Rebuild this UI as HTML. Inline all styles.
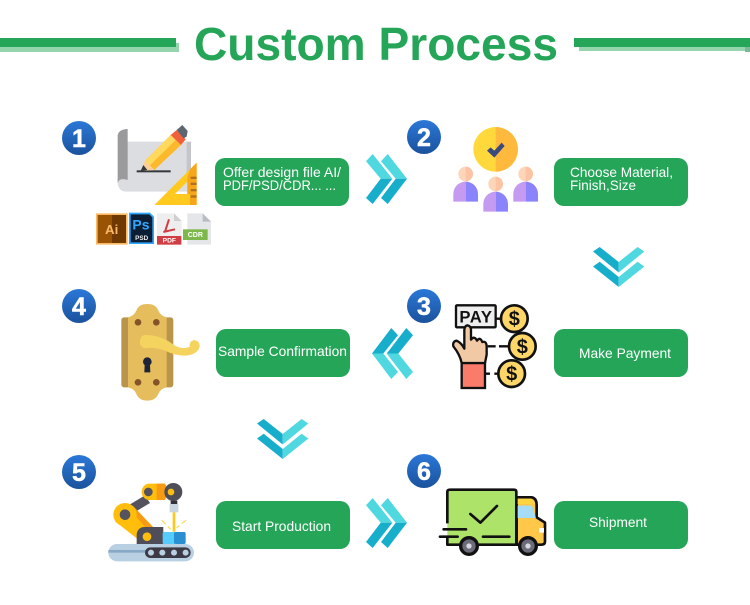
<!DOCTYPE html>
<html><head><meta charset="utf-8"><style>
html,body{margin:0;padding:0;background:#fff}
svg{display:block}
text{font-family:"Liberation Sans",sans-serif}
.l{fill:#fff;font-size:14px}
.n{fill:#fff;font-size:25px;font-weight:bold;text-anchor:middle;stroke:#fff;stroke-width:.5}
</style></head><body>
<svg width="750" height="605" viewBox="0 0 750 605" xmlns="http://www.w3.org/2000/svg">
<defs>
<linearGradient id="b" x1="0" y1="0" x2="0" y2="1"><stop offset="0" stop-color="#2b78d8"/><stop offset="1" stop-color="#1b529c"/></linearGradient>
<g id="cr">
<polygon points="0,7.3 6.7,0 26.3,24.7 14.7,24.7" fill="#4fd8e0"/><polygon points="0,44 6.7,50 26.3,24.7 14.7,24.7" fill="#17aecb"/>
<polygon points="15,7.3 21.7,0 41,24.7 29.7,24.7" fill="#4fd8e0"/><polygon points="15,44 21.7,50 41,24.7 29.7,24.7" fill="#17aecb"/>
</g>
<g id="cl">
<polygon points="41,7.3 34.3,0 14.7,25.5 26.3,25.5" fill="#17aecb"/><polygon points="41,44 34.3,51 14.7,25.5 26.3,25.5" fill="#4fd8e0"/>
<polygon points="26,7.3 19.3,0 0,25.5 11.3,25.5" fill="#17aecb"/><polygon points="26,44 19.3,51 0,25.5 11.3,25.5" fill="#4fd8e0"/>
</g>
<g id="cd">
<polygon points="0,4.5 6.7,0 25.7,15 25.7,25.5" fill="#17aecb"/><polygon points="51.3,4.5 44.6,0 25.7,15 25.7,25.5" fill="#4fd8e0"/>
<polygon points="0,19.5 6.7,14.7 25.7,30 25.7,40" fill="#17aecb"/><polygon points="51.3,19.5 44.6,14.7 25.7,30 25.7,40" fill="#4fd8e0"/>
</g>
</defs>
<rect width="750" height="605" fill="#fff"/>
<!-- header -->
<rect x="0" y="43" width="179" height="9" fill="#95d5ae"/><rect x="0" y="38" width="176" height="9" fill="#25a558"/>
<rect x="579" y="43" width="171" height="8" fill="#95d5ae"/><rect x="745" y="47" width="5" height="5" fill="#7db898"/><rect x="574" y="38" width="176" height="9" fill="#25a558"/>
<text x="194" y="60" font-size="46" font-weight="bold" fill="#25a558" textLength="364" lengthAdjust="spacingAndGlyphs">Custom Process</text>
<!-- badges -->
<g><circle cx="79" cy="138" r="17" fill="url(#b)"/><text class="n" x="79" y="147">1</text>
<circle cx="424" cy="137" r="17" fill="url(#b)"/><text class="n" x="424" y="146">2</text>
<circle cx="424" cy="306" r="17" fill="url(#b)"/><text class="n" x="424" y="315">3</text>
<circle cx="79" cy="306" r="17" fill="url(#b)"/><text class="n" x="79" y="315">4</text>
<circle cx="79" cy="472" r="17" fill="url(#b)"/><text class="n" x="79" y="481">5</text>
<circle cx="424" cy="471" r="17" fill="url(#b)"/><text class="n" x="424" y="480">6</text></g>
<!-- boxes -->
<g fill="#25a558">
<rect x="215" y="158" width="134" height="48" rx="10"/><rect x="554" y="158" width="134" height="48" rx="10"/>
<rect x="216" y="329" width="134" height="48" rx="10"/><rect x="554" y="329" width="134" height="48" rx="10"/>
<rect x="216" y="501" width="134" height="48" rx="10"/><rect x="554" y="501" width="134" height="48" rx="10"/>
</g>
<text class="l" x="223" y="177" textLength="118" lengthAdjust="spacingAndGlyphs">Offer design file AI/</text>
<text class="l" x="223" y="190" textLength="113" lengthAdjust="spacingAndGlyphs">PDF/PSD/CDR... ...</text>
<text class="l" x="570" y="177" textLength="103" lengthAdjust="spacingAndGlyphs">Choose Material,</text>
<text class="l" x="570" y="190" textLength="66" lengthAdjust="spacingAndGlyphs">Finish,Size</text>
<text class="l" x="218" y="356" textLength="129" lengthAdjust="spacingAndGlyphs">Sample Confirmation</text>
<text class="l" x="579" y="358" textLength="92" lengthAdjust="spacingAndGlyphs">Make Payment</text>
<text class="l" x="232" y="531" textLength="99" lengthAdjust="spacingAndGlyphs">Start Production</text>
<text class="l" x="589" y="527" textLength="58" lengthAdjust="spacingAndGlyphs">Shipment</text>
<!-- chevrons -->
<use href="#cr" x="366" y="154"/><use href="#cr" x="366" y="498"/>
<use href="#cl" x="372" y="328"/>
<use href="#cd" x="593" y="247"/><use href="#cd" x="257" y="419"/>
<!-- icon 1 -->
<g transform="translate(105,120) scale(.3333)">
<path d="M68 65H258V215H60Q38 212 38 185V170Z" fill="#dcdde1"/>
<path d="M38 45Q42 28 68 27V180Q42 172 38 190Z" fill="#9a9a9c"/>
<rect x="245" y="65" width="13" height="100" fill="#c4c5ca"/>
<rect x="95" y="151" width="102" height="6" fill="#33383d"/>
<polygon points="120,122 197,45 228,75 148,150" fill="#fcb92c"/>
<polygon points="120,122 197,45 212,60 134,137" fill="#ffd95e"/>
<polygon points="120,122 148,150 108,153" fill="#fdcf98"/>
<polygon points="115,135 127,150 106,155" fill="#33383d"/>
<polygon points="197,45 215,30 242,58 228,75" fill="#f0603a"/>
<polygon points="215,30 232,15 248,33 245,50 236,55" fill="#5b6670"/>
<path fill-rule="evenodd" d="M148 255 275 128V255ZM210 222H247V185Z" fill="#ffc91f"/>
<path d="M255 148 275 128V255H255V222H247V175Z" fill="#f7a61c"/>
<g fill="#b2701c"><rect x="257" y="170" width="18" height="7"/><rect x="257" y="188" width="18" height="7"/><rect x="257" y="207" width="18" height="7"/><rect x="257" y="226" width="18" height="7"/></g>
</g>
<!-- file icons -->
<g transform="translate(50,110) scale(.3333)">
<rect x="138" y="310" width="95" height="94" fill="#f9b965"/><rect x="143" y="315" width="42" height="84" fill="#9a5305"/><rect x="185" y="315" width="43" height="84" fill="#6e3800"/>
<text x="185" y="372" font-size="40" font-weight="bold" fill="#f9b965" text-anchor="middle">Ai</text>
<path d="M237 308H300L312 320V402H237Z" fill="#31a8ff"/><path d="M242 313H298L307 322V397H242Z" fill="#0c1e33"/>
<text x="273" y="358" font-size="42" font-weight="bold" fill="#31a8ff" text-anchor="middle">Ps</text>
<text x="275" y="390" font-size="19" font-weight="bold" fill="#eee" text-anchor="middle">PSD</text>
<path d="M321 310H372L395 333V404H321Z" fill="#eeeeee"/><path d="M372 310 395 333H372Z" fill="#cfcfcf"/>
<path d="M357 328 345 365 375 358 340 366" fill="none" stroke="#d03e44" stroke-width="6"/>
<rect x="321" y="378" width="73" height="26" fill="#d03e44"/>
<text x="358" y="398" font-size="20" font-weight="bold" fill="#fff" text-anchor="middle">PDF</text>
<path d="M412 310H458L483 335V404H412Z" fill="#e4e6ea"/><path d="M458 310 483 335H458Z" fill="#b8bcc4"/>
<rect x="399" y="358" width="74" height="32" fill="#7db84a"/>
<text x="436" y="381" font-size="21" font-weight="bold" fill="#fff" text-anchor="middle">CDR</text>
</g>
<!-- icon 2 -->
<g transform="translate(360,110) scale(.3333)">
<circle cx="407" cy="118" r="67" fill="#ffd93b"/><path d="M407 51a67 67 0 0 1 0 134Z" fill="#ffb93c"/>
<path d="M381 122 392 112 403 122 425 98 434 108 403 143Z" fill="#3b4a7e"/>
<g id="p"><circle cx="317" cy="192" r="22" fill="#fdd5b8"/><path d="M317 170a22 22 0 0 1 0 44Z" fill="#fcc4a4"/>
<path d="M280 275V252a37 37 0 0 1 37-37V275Z" fill="#c49bf0"/><path d="M317 215a37 37 0 0 1 37 37V275H317Z" fill="#8b83fb"/></g>
<use href="#p" x="180"/><use href="#p" x="90" y="30"/>
</g>
<!-- icon 4 -->
<g transform="translate(50,280) scale(.3333)">
<rect x="214" y="112" width="156" height="210" rx="8" fill="#b8954a"/>
<path d="M292 72Q318 72 325 92 332 108 350 112V322Q330 326 325 342 316 362 292 362 268 362 259 342 254 326 234 322V112Q252 108 259 92 266 72 292 72Z" fill="#e6bd5c"/>
<g fill="#85532a"><circle cx="264" cy="127" r="10"/><circle cx="319" cy="127" r="10"/><circle cx="264" cy="307" r="10"/><circle cx="319" cy="307" r="10"/></g>
<path d="M285 165Q330 165 365 190 395 212 420 200 415 188 430 180 450 182 449 200 445 218 420 225 385 232 345 212 315 200 285 205 268 200 270 183 272 166 285 165Z" fill="#f5d35f"/>
<path d="M291 232a13 13 0 0 1 9 23L301 277H283L284 255a13 13 0 0 1 7-23Z" fill="#1e2438"/>
</g>
<!-- icon 3 -->
<g transform="translate(445,298) scale(.3333)">
<rect x="33" y="22" width="119" height="66" rx="3" fill="#eeeeee" stroke="#111" stroke-width="7"/>
<text x="92" y="73" font-size="50" font-weight="bold" fill="#111" text-anchor="middle" textLength="98" lengthAdjust="spacing">PAY</text>
<g stroke="#111" stroke-width="7" fill="none"><path d="M152 62H168M128 145H152M162 145H190M118 227H135M148 227H160"/></g>
<g fill="#fdd667" stroke="#111" stroke-width="8"><circle cx="208" cy="62" r="40"/><circle cx="232" cy="145" r="40"/><circle cx="200" cy="227" r="40"/></g>
<g font-size="60" font-weight="bold" fill="#111" text-anchor="middle"><text x="208" y="83">$</text><text x="232" y="166">$</text><text x="200" y="248">$</text></g>
<rect x="50" y="195" width="70" height="75" fill="#fb7b6b" stroke="#111" stroke-width="7"/>
<path d="M50 195Q45 170 25 145 22 130 35 128 50 135 58 152V95Q60 82 68 82 78 85 78 95V125Q88 112 96 128 105 115 112 132 124 128 125 145V170Q122 185 120 195Z" fill="#f2c9a5" stroke="#111" stroke-width="7" stroke-linejoin="round"/>
</g>
<!-- icon 5 -->
<g transform="translate(100,478) scale(.3333)">
<rect x="25" y="198" width="257" height="52" rx="26" fill="#b9cfe2"/><rect x="25" y="216" width="120" height="8" fill="#88a9c6"/>
<rect x="135" y="208" width="137" height="32" rx="16" fill="#3d3a45"/>
<g fill="#b9cfe2"><circle cx="153" cy="224" r="9"/><circle cx="187" cy="224" r="9"/><circle cx="222" cy="224" r="9"/><circle cx="257" cy="224" r="9"/></g>
<polygon points="85,82 135,52 150,75 100,105" fill="#55535e"/>
<polygon points="45,130 115,185 160,148 100,85" fill="#ffbe0b"/><polygon points="100,85 160,148 145,158 92,97" fill="#f89b12"/>
<circle cx="75" cy="110" r="35" fill="#ffbe0b"/><circle cx="75" cy="110" r="16" fill="#55535e"/>
<path d="M145 17H195L205 40 195 66H145A25 25 0 0 1 145 17Z" fill="#ffbe0b"/><path d="M170 17H195L205 40 195 66H170Z" fill="#f89b12"/>
<circle cx="145" cy="42" r="13" fill="#55535e"/>
<circle cx="220" cy="42" r="27" fill="#4f4d58"/><circle cx="213" cy="42" r="10" fill="#ffbe0b"/>
<rect x="212" y="68" width="20" height="10" fill="#33323a"/><rect x="209" y="78" width="26" height="25" fill="#c9d4de"/>
<rect x="218" y="103" width="8" height="58" fill="#ffc61b"/>
<path d="M110 198V170A23 23 0 0 1 133 147H190V198Z" fill="#4f4d58"/><circle cx="141" cy="176" r="13" fill="#ffbe0b"/>
<rect x="188" y="162" width="38" height="36" rx="5" fill="#55ccfb"/><rect x="222" y="162" width="35" height="36" rx="5" fill="#2a8fd0"/>
<g stroke="#ffd22e" stroke-width="3"><path d="M185 127 197 139M204 146 212 154M258 127 245 137M238 143 230 150"/></g>
</g>
<!-- icon 6 -->
<g transform="translate(360,440) scale(.3333)">
<path d="M470 172H515Q530 175 530 195V232L555 248V305Q555 314 545 314H470Z" fill="#ffc84a" stroke="#111" stroke-width="8" stroke-linejoin="round"/>
<path d="M472 176H513Q524 180 524 192H472Z" fill="#ffd53f"/>
<path d="M472 197H516L528 234H472Z" fill="#a7dcf7"/>
<path d="M262 250V155Q262 149 270 149H462Q469 149 469 155V314H262V290" fill="#aee36a" stroke="#111" stroke-width="8" stroke-linejoin="round"/>
<path d="M331 222 361 248 411 198" fill="none" stroke="#111" stroke-width="8" stroke-linecap="round" stroke-linejoin="round"/>
<g stroke="#111" stroke-width="8" stroke-linecap="round"><path d="M251 268H318M240 290H293M369 290H448"/></g>
<path d="M538 264H552V278H538Z" fill="#fff"/>
<g fill="#6b6b7a" stroke="#111" stroke-width="10"><circle cx="327" cy="318" r="25"/><circle cx="504" cy="318" r="25"/></g>
<g fill="#d7d7df"><circle cx="327" cy="318" r="8"/><circle cx="504" cy="318" r="8"/></g>
</g>
</svg>
</body></html>
